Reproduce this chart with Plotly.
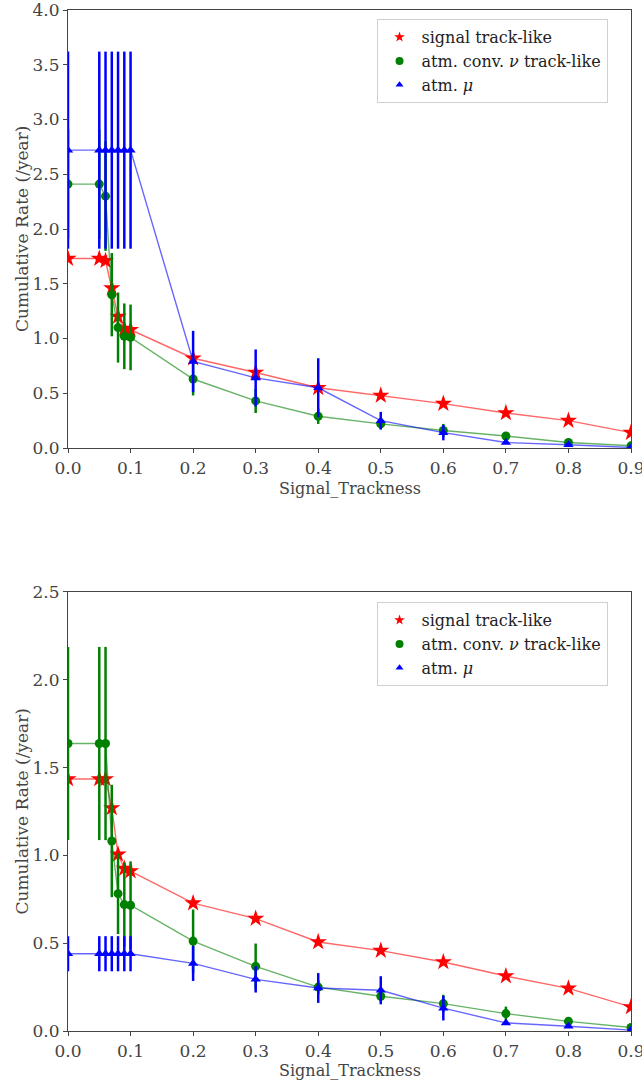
import plotly.graph_objects as go

# ---- data ----
x_vals = [0.0, 0.05, 0.06, 0.07, 0.08, 0.09, 0.1, 0.2, 0.3, 0.4, 0.5, 0.6, 0.7, 0.8, 0.9]
x_ticks = [0.0, 0.1, 0.2, 0.3, 0.4, 0.5, 0.6, 0.7, 0.8, 0.9]

# top panel
top_signal = [1.73, 1.73, 1.71, 1.46, 1.20, 1.09, 1.08, 0.82, 0.69, 0.55, 0.48, 0.405, 0.32, 0.25, 0.14]
top_signal_err = [0.0] * 15
top_conv = [2.41, 2.41, 2.30, 1.40, 1.10, 1.02, 1.01, 0.63, 0.43, 0.29, 0.22, 0.16, 0.11, 0.05, 0.02]
top_conv_err = [0.5, 0.5, 0.5, 0.38, 0.32, 0.30, 0.30, 0.15, 0.11, 0.07, 0.05, 0.06, 0.03, 0.02, 0.01]
top_mu = [2.72, 2.72, 2.72, 2.72, 2.72, 2.72, 2.72, 0.79, 0.64, 0.55, 0.25, 0.14, 0.05, 0.03, 0.005]
top_mu_err = [0.9, 0.9, 0.9, 0.9, 0.9, 0.9, 0.9, 0.28, 0.26, 0.27, 0.08, 0.07, 0.0, 0.0, 0.0]

# bottom panel
bot_signal = [1.435, 1.435, 1.435, 1.27, 1.006, 0.925, 0.911, 0.728, 0.64, 0.507, 0.458, 0.393, 0.313, 0.243, 0.137]
bot_signal_err = [0.0] * 15
bot_conv = [1.637, 1.637, 1.637, 1.082, 0.782, 0.72, 0.716, 0.512, 0.368, 0.25, 0.198, 0.156, 0.099, 0.055, 0.02]
bot_conv_err = [0.55, 0.55, 0.55, 0.32, 0.23, 0.24, 0.25, 0.18, 0.13, 0.04, 0.03, 0.05, 0.04, 0.01, 0.005]
bot_mu = [0.44, 0.44, 0.44, 0.44, 0.44, 0.44, 0.44, 0.385, 0.294, 0.245, 0.232, 0.13, 0.046, 0.027, 0.005]
bot_mu_err = [0.1, 0.1, 0.1, 0.1, 0.1, 0.1, 0.1, 0.1, 0.075, 0.085, 0.08, 0.07, 0.0, 0.0, 0.0]

labels = ["signal track-like", "atm. conv. <i>\u03bd</i> track-like", "atm. <i>\u03bc</i>"]
x_title = "Signal_Trackness"
y_title = "Cumulative Rate (/year)"
colors = ["#ff0000", "#008000", "#0000ff"]
line_colors = ["rgba(255,0,0,0.6)", "rgba(0,128,0,0.6)", "rgba(0,0,255,0.6)"]
symbols = ["star", "circle", "triangle-up"]
msizes = [13, 9, 9]
legend_msizes = [8, 8, 7]

FONT = "DejaVu Serif"

fig = go.Figure()

panels = [
    ("x", "y", "legend", [top_signal, top_conv, top_mu], [top_signal_err, top_conv_err, top_mu_err]),
    ("x2", "y2", "legend2", [bot_signal, bot_conv, bot_mu], [bot_signal_err, bot_conv_err, bot_mu_err]),
]

for xa, ya, leg, ys, errs in panels:
    for i in range(3):
        fig.add_trace(go.Scatter(
            x=x_vals, y=ys[i], xaxis=xa, yaxis=ya, mode="lines+markers",
            line=dict(color=line_colors[i], width=1.4),
            marker=dict(symbol=symbols[i], size=msizes[i], color=colors[i], line=dict(width=0)),
            error_y=dict(type="data", array=errs[i], visible=True, color=colors[i], thickness=2.5, width=0),
            showlegend=False,
        ))
    for i in range(3):
        fig.add_trace(go.Scatter(
            x=[None], y=[None], xaxis=xa, yaxis=ya, mode="markers",
            marker=dict(symbol=symbols[i], size=legend_msizes[i], color=colors[i], line=dict(width=0)),
            name=labels[i], legend=leg, showlegend=True,
        ))

axis_common = dict(
    showline=True, linecolor="#444", linewidth=1.2, mirror=True,
    ticks="outside", ticklen=4, tickwidth=1, tickcolor="#444",
    showgrid=False, zeroline=False, automargin=False,
    ticklabeloverflow="allow",
    tickfont=dict(family=FONT, size=17, color="#444"),
)

top_dom = [0.571, 1.0]
bot_dom = [0.0, 0.43]

x_title_font = dict(family=FONT, size=16, color="#444")
y_title_font = dict(family=FONT, size=17, color="#444")
legend_common = dict(xanchor="left", yanchor="top", bgcolor="white",
                     bordercolor="#d0d0d0", borderwidth=1,
                     font=dict(family=FONT, size=16, color="#222"),
                     itemwidth=34, tracegroupgap=0)

fig.update_layout(
    width=642, height=1082,
    margin=dict(l=68, r=11, t=10, b=51),
    plot_bgcolor="white", paper_bgcolor="white",
    font=dict(family=FONT, color="#333"),
    xaxis=dict(axis_common, domain=[0, 1], range=[0, 0.9], tickvals=x_ticks, tickformat=".1f", anchor="y"),
    yaxis=dict(axis_common, domain=top_dom, range=[0, 4.0], dtick=0.5, tickformat=".1f", anchor="x"),
    xaxis2=dict(axis_common, domain=[0, 1], range=[0, 0.9], tickvals=x_ticks, tickformat=".1f", anchor="y2"),
    yaxis2=dict(axis_common, domain=bot_dom, range=[0, 2.5], dtick=0.5, tickformat=".1f", anchor="x2"),
    legend=dict(legend_common, x=0.548, y=0.991),
    legend2=dict(legend_common, x=0.548, y=0.42),
)

# axis titles as annotations (placed in paper coordinates)
for ypos in [0.5318, -0.0385]:
    fig.add_annotation(text=x_title, xref="paper", yref="paper", x=0.5, y=ypos,
                       xanchor="center", yanchor="middle", showarrow=False, font=x_title_font)
for dom in [top_dom, bot_dom]:
    fig.add_annotation(text=y_title, xref="paper", yref="paper", x=-0.0817, y=(dom[0] + dom[1]) / 2,
                       xanchor="center", yanchor="middle", textangle=-90, showarrow=False, font=y_title_font)

fig.write_html("out.html", config={"displayModeBar": False},
               post_script="document.body.style.margin='0px'; document.body.style.overflow='hidden';")
